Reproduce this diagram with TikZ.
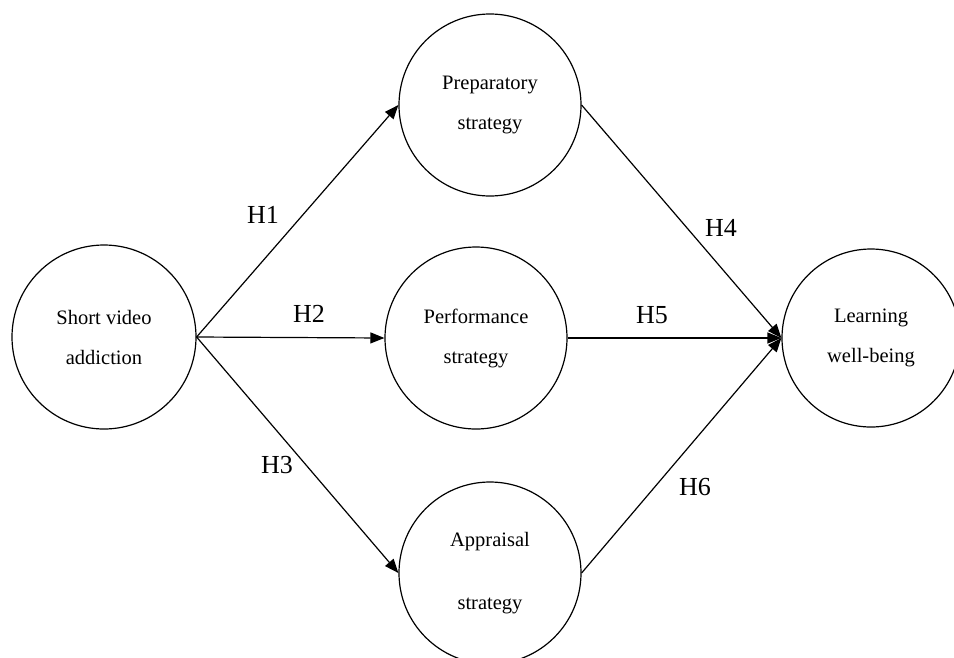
\documentclass[tikz,border=0pt]{standalone}
\usepackage{fontspec}
\setmainfont{Liberation Serif}
\usetikzlibrary{arrows.meta}
\begin{document}
\begin{tikzpicture}[x=1pt,y=-1pt,
  construct/.style={draw=black, line width=1.2pt, circle, inner sep=0pt, align=center,
    font=\fontsize{20.5}{40}\selectfont},
  hyp/.style={font=\fontsize{26}{30}\selectfont, inner sep=0pt},
  arr/.style={draw=black, line width=1.2pt, -{Triangle[length=14pt,width=11pt]}}]
\fill[white] (0,0) rectangle (954,657);
\useasboundingbox (0,0) rectangle (954,657);
\begin{scope}
\clip (0,0) rectangle (954,657);
\node[construct, minimum size=184pt] (svd) at (104,337) {Short video\\addiction};
\node[construct, minimum size=182pt] (prep) at (490,105) {Preparatory\\strategy};
\node[construct, minimum size=182pt] (perf) at (476,338) {Performance\\strategy};
\node[construct, minimum size=182pt, font=\fontsize{20.5}{63}\selectfont] (appr) at (490,573) {Appraisal\\strategy};
\node[construct, minimum size=178pt] (learn) at (871,338) {Learning\\well-being};
\draw[arr] (svd.east) -- (prep.west);
\draw[arr] (svd.east) -- (perf.west);
\draw[arr] (svd.east) -- (appr.west);
\draw[arr] (prep.east) -- (learn.west);
\draw[arr] (perf.east) -- (learn.west);
\draw[arr] (appr.east) -- (learn.west);
\node[hyp] (h1) at (263,215) {H1};
\node[hyp] (h2) at (309,314) {H2};
\node[hyp] (h3) at (277,465) {H3};
\node[hyp] (h4) at (721,228) {H4};
\node[hyp] (h5) at (652,315) {H5};
\node[hyp] (h6) at (695,487) {H6};
\end{scope}
\end{tikzpicture}
\end{document}
